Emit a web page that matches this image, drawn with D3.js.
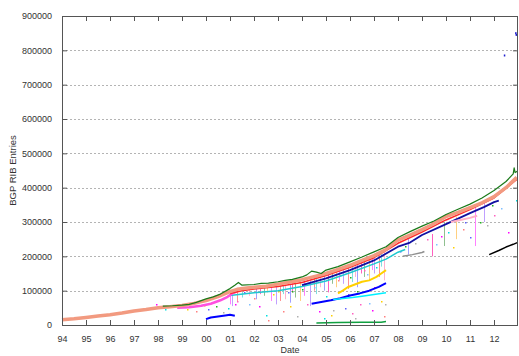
<!DOCTYPE html>
<html>
<head>
<meta charset="utf-8">
<script src="https://cdn.jsdelivr.net/npm/d3@7"></script>
<style>
  body { margin: 0; background: #fff; }
  svg { display: block; }
  text { font-family: "Liberation Sans", Arial, sans-serif; fill: #333; }
</style>
</head>
<body>
<div id="chart"></div>
<script>
// values are [year, entries in thousands]
const xTickYears = d3.range(1994, 2013);
const yTickValues = [0, 100000, 200000, 300000, 400000, 500000, 600000, 700000, 800000, 900000];

const mainSeries = [[1994.0,15],[1994.5,18],[1995,22],[1995.5,26],[1996,30],[1996.5,35],[1997,41],[1997.5,45],[1998,50],[1998.5,53],[1999,57],[1999.5,63],[2000,71],[2000.5,83],[2001,97],[2001.3,104],[2001.7,108],[2002,110],[2002.5,113],[2003,119],[2003.5,125],[2004,132],[2004.5,141],[2005,150],[2005.5,162],[2006,174],[2006.5,188],[2007,202],[2007.5,220],[2008,247],[2008.5,262],[2009,278],[2009.5,295],[2010,316],[2010.5,328],[2011,342],[2011.5,356],[2012,374],[2012.5,400],[2012.95,430]];
const greenSeries = [[1998.2,55],[1998.6,56],[1999,58],[1999.3,60],[1999.6,66],[2000,76],[2000.3,82],[2000.6,90],[2001,106],[2001.2,116],[2001.35,124],[2001.5,116],[2002,118],[2002.3,121],[2002.6,122],[2003,126],[2003.3,130],[2003.6,133],[2004,140],[2004.2,146],[2004.4,157],[2004.6,154],[2004.8,150],[2005,160],[2005.5,170],[2006,184],[2006.5,198],[2007,213],[2007.5,228],[2008,255],[2008.5,272],[2009,288],[2009.5,303],[2010,322],[2010.5,337],[2011,352],[2011.5,370],[2012,392],[2012.5,418],[2012.8,440],[2012.84,458],[2012.88,444],[2012.97,448]];
const redSeries = [[2001,92],[2001.5,100],[2002,105],[2003,112],[2004,124],[2005,144],[2006,168],[2007,196],[2008,238],[2009,271],[2010,306],[2011,336],[2012,370],[2012.95,424]];
const navySeries = [[2004,116],[2005,136],[2006,160],[2007,188],[2008,228],[2008.5,240],[2009,262],[2010,294],[2011,326],[2011.6,344],[2012,358],[2012.2,362]];
const cyanSeries = [[2001,86],[2002,94],[2003,100],[2004,112],[2005,128],[2006,152],[2007,178],[2007.5,192],[2008,212],[2008.3,220]];
const pinkSeries = [[1998.8,50],[1999.3,52],[1999.8,56],[2000.2,62],[2000.6,72],[2000.9,82],[2001.1,92],[2001.3,98]];
const lightPinkSeries = [[2010.2,300],[2010.6,306],[2011,312],[2011.3,318]];
const blueEarly = [[2000,17],[2000.2,22],[2000.5,25],[2000.8,28],[2001,30],[2001.2,27]];
const blueMid = [[2004.4,62],[2004.8,67],[2005.2,72],[2005.6,78],[2006,86],[2006.4,92],[2006.8,100],[2007.2,111],[2007.5,122]];
const cyanMid = [[2005.3,74],[2005.7,77],[2006.1,80],[2006.5,84],[2007,89],[2007.5,94]];
const yellowSeries = [[2005.5,92],[2005.7,100],[2005.9,110],[2006.2,118],[2006.5,126],[2006.8,130],[2007.1,140],[2007.3,150],[2007.5,160]];
const darkGreenFlat = [[2004.6,6],[2005.5,7],[2006.5,8],[2007.3,8],[2007.5,10]];
const graySeries = [[2008.2,200],[2008.6,205],[2009,211],[2009.1,214]];
const blackSeries = [[2011.8,205],[2012.2,217],[2012.5,227],[2012.8,235],[2012.97,240]];
const outliers = [[2012.45,785],[2012.92,850],[2012.94,845]];

// vertical streaks: [year, top, bottom]
const drops = [[2001.0,95,60],[2001.1,100,55],[2001.3,102,70],[2001.5,105,80],[2001.8,107,85],[2002.1,108,75],[2002.25,109,90],[2002.4,110,85],[2002.55,111,95],[2002.7,112,70],[2002.9,113,60],[2003.1,115,70],[2003.2,116,90],[2003.3,118,75],[2003.5,120,65],[2003.6,122,95],[2003.7,124,80],[2003.9,128,70],[2004.1,132,85],[2004.35,138,55],[2004.5,140,100],[2004.6,142,90],[2004.75,146,110],[2004.9,150,100],[2005.1,154,95],[2005.25,157,120],[2005.4,160,110],[2005.55,163,130],[2005.7,166,120],[2005.9,172,105],[2006.1,178,125],[2006.2,180,140],[2006.3,182,110],[2006.45,186,150],[2006.6,190,140],[2006.8,196,130],[2006.9,200,160],[2007.0,204,150],[2007.2,210,140],[2007.3,214,170],[2007.4,218,130],[2008.4,255,205],[2009.4,265,200],[2009.9,300,230],[2010.4,315,250],[2011.2,345,230],[2011.6,355,300]];

// loose dots
const scatter = [[1997.9,60],[1998.3,48],[1999.2,46],[1999.6,40],[2000.1,48],[2000.4,55],[2000.7,38],[2001.3,70],[2001.8,62],[2002.2,55],[2002.5,30],[2002.8,90],[2003.2,40],[2003.4,95],[2003.6,100],[2003.8,25],[2004.2,60],[2004.5,110],[2004.7,40],[2005.0,85],[2005.2,30],[2005.5,130],[2005.8,50],[2006.0,140],[2006.2,20],[2006.4,60],[2006.7,150],[2006.9,45],[2007.1,170],[2007.3,70],[2007.4,25],[2008.1,215],[2008.3,230],[2008.7,240],[2009.2,250],[2009.6,235],[2009.8,260],[2010.1,270],[2010.3,228],[2010.7,280],[2011.0,255],[2011.4,300],[2011.7,290],[2012.0,320],[2012.3,340],[2012.6,270],[2012.9,365],[2003.0,100],[2002.0,80],[2001.6,95],[2004.0,105],[2005.6,145],[2006.6,160],[2007.2,185],[2001.2,60],[2000.9,50],[1999.9,58],[2009.4,300],[2010.8,300],[2011.9,350],[2005.3,45],[2006.1,35],[2006.8,65],[2007.0,110],[2004.9,20],[2003.5,55],[2002.6,15],[2005.9,90],[2006.3,100],[2007.45,60]];

const dropColors = ["#ff80ff", "#c0a0ff", "#ff9090", "#80e0e0", "#ffb0d0", "#a0a0ff", "#ff60c0", "#90c090", "#ffd080"];
const dotColors = ["#ff00ff", "#00e0e0", "#ffd000", "#ff8080", "#6060ff", "#20b020", "#b0b0b0", "#ff60c0", "#80c0ff"];

const width = 519, height = 356;
const margin = { top: 16, right: 1, bottom: 31, left: 62 };

const svg = d3.select('#chart').append('svg')
  .attr('width', width)
  .attr('height', height);

const x = d3.scaleLinear().domain([1994, 2013]).range([margin.left, width - margin.right]);
const y = d3.scaleLinear().domain([0, 900000]).range([height - margin.bottom, margin.top]);

const px = d => x(d[0]);
const py = d => y(d[1] * 1000);

// grid
svg.append('g')
  .selectAll('line')
  .data(yTickValues.slice(1, -1))
  .enter().append('line')
  .attr('x1', margin.left).attr('x2', width - margin.right)
  .attr('y1', d => Math.round(y(d)) + 0.5).attr('y2', d => Math.round(y(d)) + 0.5)
  .attr('stroke', '#b4b4b4')
  .attr('stroke-dasharray', '2,2');

const plot = svg.append('g');

// streaks
plot.selectAll('.drop')
  .data(drops)
  .enter().append('line')
  .attr('class', 'drop')
  .attr('x1', d => Math.round(x(d[0])) + 0.5).attr('x2', d => Math.round(x(d[0])) + 0.5)
  .attr('y1', d => y(d[1] * 1000)).attr('y2', d => y(d[2] * 1000))
  .attr('stroke', (d, i) => dropColors[i % dropColors.length])
  .attr('stroke-width', 1);

plot.selectAll('.dot')
  .data(scatter)
  .enter().append('rect')
  .attr('class', 'dot')
  .attr('x', d => Math.round(px(d)))
  .attr('y', d => Math.round(py(d)))
  .attr('width', 1.5).attr('height', 1.5)
  .attr('fill', (d, i) => dotColors[i % dotColors.length]);

const line = d3.line().x(px).y(py);

function drawSeries(data, color, w) {
  plot.append('path')
    .datum(data)
    .attr('d', line)
    .attr('fill', 'none')
    .attr('stroke', color)
    .attr('stroke-width', w)
    .attr('stroke-linejoin', 'round');
}

drawSeries(cyanSeries, '#20c8d0', 1.5);
drawSeries(navySeries, '#1010a0', 1.8);
drawSeries(pinkSeries, '#ff50e0', 2.5);
drawSeries(lightPinkSeries, '#ffb0c8', 2);
drawSeries(blueEarly, '#0000ff', 2);
drawSeries(blueMid, '#0000ff', 2);
drawSeries(cyanMid, '#00f0ff', 1.5);
drawSeries(yellowSeries, '#ffd000', 2);
drawSeries(darkGreenFlat, '#10a040', 1.5);
drawSeries(graySeries, '#909090', 1.5);
drawSeries(blackSeries, '#000000', 1.5);
drawSeries(redSeries, '#ff2a2a', 1.5);
drawSeries(mainSeries, '#f29a80', 3.5);
drawSeries(greenSeries, '#1a7a1a', 1.2);

plot.selectAll('.out')
  .data(outliers)
  .enter().append('rect')
  .attr('class', 'out')
  .attr('x', d => px(d) - 1)
  .attr('y', d => py(d) - 1)
  .attr('width', 1.5).attr('height', 2)
  .attr('fill', '#2020d0');

// border
svg.append('rect')
  .attr('x', margin.left + 0.5).attr('y', margin.top + 0.5)
  .attr('width', width - margin.right - margin.left - 1)
  .attr('height', height - margin.bottom - margin.top)
  .attr('fill', 'none')
  .attr('stroke', '#555');

// axes (gnuplot style inward ticks, mirrored)
const xAxis = d3.axisBottom(x).tickValues(xTickYears)
  .tickFormat(d => String(d % 100).padStart(2, '0'))
  .tickSizeInner(-5).tickSizeOuter(0).tickPadding(11);
svg.append('g')
  .attr('transform', `translate(0, ${height - margin.bottom})`)
  .call(xAxis)
  .call(g => g.select('.domain').remove());

svg.append('g')
  .attr('transform', `translate(0, ${margin.top})`)
  .call(d3.axisTop(x).tickValues(xTickYears).tickFormat('').tickSizeInner(-5).tickSizeOuter(0))
  .call(g => g.select('.domain').remove());

const yAxis = d3.axisLeft(y).tickValues(yTickValues)
  .tickFormat(d3.format('d'))
  .tickSizeInner(-5).tickSizeOuter(0).tickPadding(10);
svg.append('g')
  .attr('transform', `translate(${margin.left}, 0)`)
  .call(yAxis)
  .call(g => g.select('.domain').remove());

svg.append('g')
  .attr('transform', `translate(${width - margin.right}, 0)`)
  .call(d3.axisRight(y).tickValues(yTickValues).tickFormat('').tickSizeInner(-5).tickSizeOuter(0))
  .call(g => g.select('.domain').remove());

svg.selectAll('.tick line').attr('stroke', '#555');
svg.selectAll('.tick text')
  .style('font-family', '"Liberation Sans", Arial, sans-serif')
  .style('font-size', '9px')
  .attr('fill', '#333');

svg.append('text')
  .attr('x', 290).attr('y', 353)
  .attr('text-anchor', 'middle')
  .style('font-size', '9px')
  .text('Date');

svg.append('text')
  .attr('transform', `translate(16, ${(margin.top + height - margin.bottom) / 2}) rotate(-90)`)
  .attr('text-anchor', 'middle')
  .style('font-size', '9.5px')
  .text('BGP RIB Entries');
</script>
</body>
</html>
